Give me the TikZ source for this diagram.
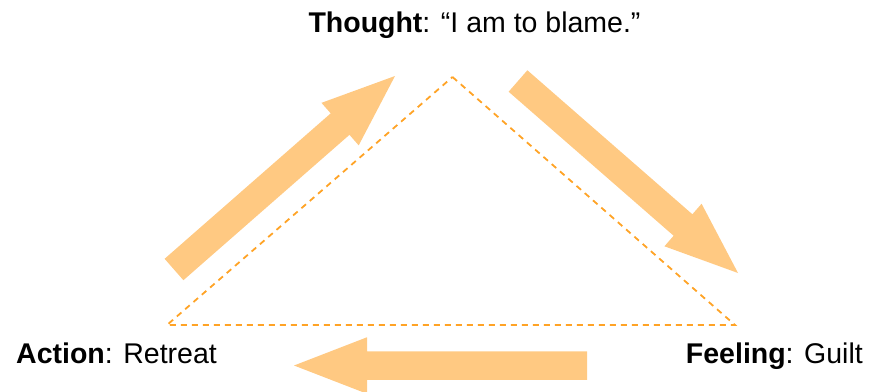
\documentclass[tikz,border=0pt]{standalone}
\usepackage{fontspec}
\setmainfont{Liberation Sans}
\usetikzlibrary{calc}
\definecolor{arrowfill}{RGB}{255,201,130}
\definecolor{dashorange}{RGB}{255,163,38}
\tikzset{
  lbl/.style={inner sep=0pt, font=\fontsize{28.5}{34}\selectfont},
  tri/.style={draw=dashorange, line width=1.8pt, dash pattern=on 6pt off 5pt},
  blk/.style={fill=arrowfill, draw=none},
}
% #1 tail coordinate, #2 tip coordinate, #3 name prefix
\newcommand{\blkarrow}[3]{%
  \coordinate (#3-b) at ($(#2)!73pt!(#1)$);
  \fill[blk] ($(#1)!14.25pt!90:(#2)$) -- ($(#3-b)!14.25pt!-90:(#1)$)
    -- ($(#3-b)!28.25pt!-90:(#1)$) -- (#2)
    -- ($(#3-b)!28.25pt!90:(#1)$) -- ($(#3-b)!14.25pt!90:(#1)$)
    -- ($(#1)!14.25pt!-90:(#2)$) -- cycle;
}
\begin{document}
\begin{tikzpicture}[x=1pt, y=-1pt]
  \useasboundingbox (0,0) rectangle (874,391);
  % triangle
  \coordinate (top) at (452.5,77);
  \coordinate (bl) at (167,325);
  \coordinate (br) at (735,325);
  \draw[tri] (top) -- (br) -- (bl) -- cycle;
  % block arrows
  \coordinate (a1t) at (174,269.5);
  \coordinate (a1h) at (395,76);
  \coordinate (a2t) at (518,81);
  \coordinate (a2h) at (738,273);
  \coordinate (a3t) at (587,365.5);
  \coordinate (a3h) at (294,365.5);
  \blkarrow{a1t}{a1h}{a1}
  \blkarrow{a2t}{a2h}{a2}
  \blkarrow{a3t}{a3h}{a3}
  % labels
  \node[lbl, anchor=base] (thought) at (474.5,32.5) {\textbf{Thought}: “I am to blame.”};
  \node[lbl, anchor=base west] (action) at (16,363.5) {\textbf{Action}: Retreat};
  \node[lbl, anchor=base east] (feeling) at (863,363.5) {\textbf{Feeling}: Guilt};
\end{tikzpicture}
\end{document}
